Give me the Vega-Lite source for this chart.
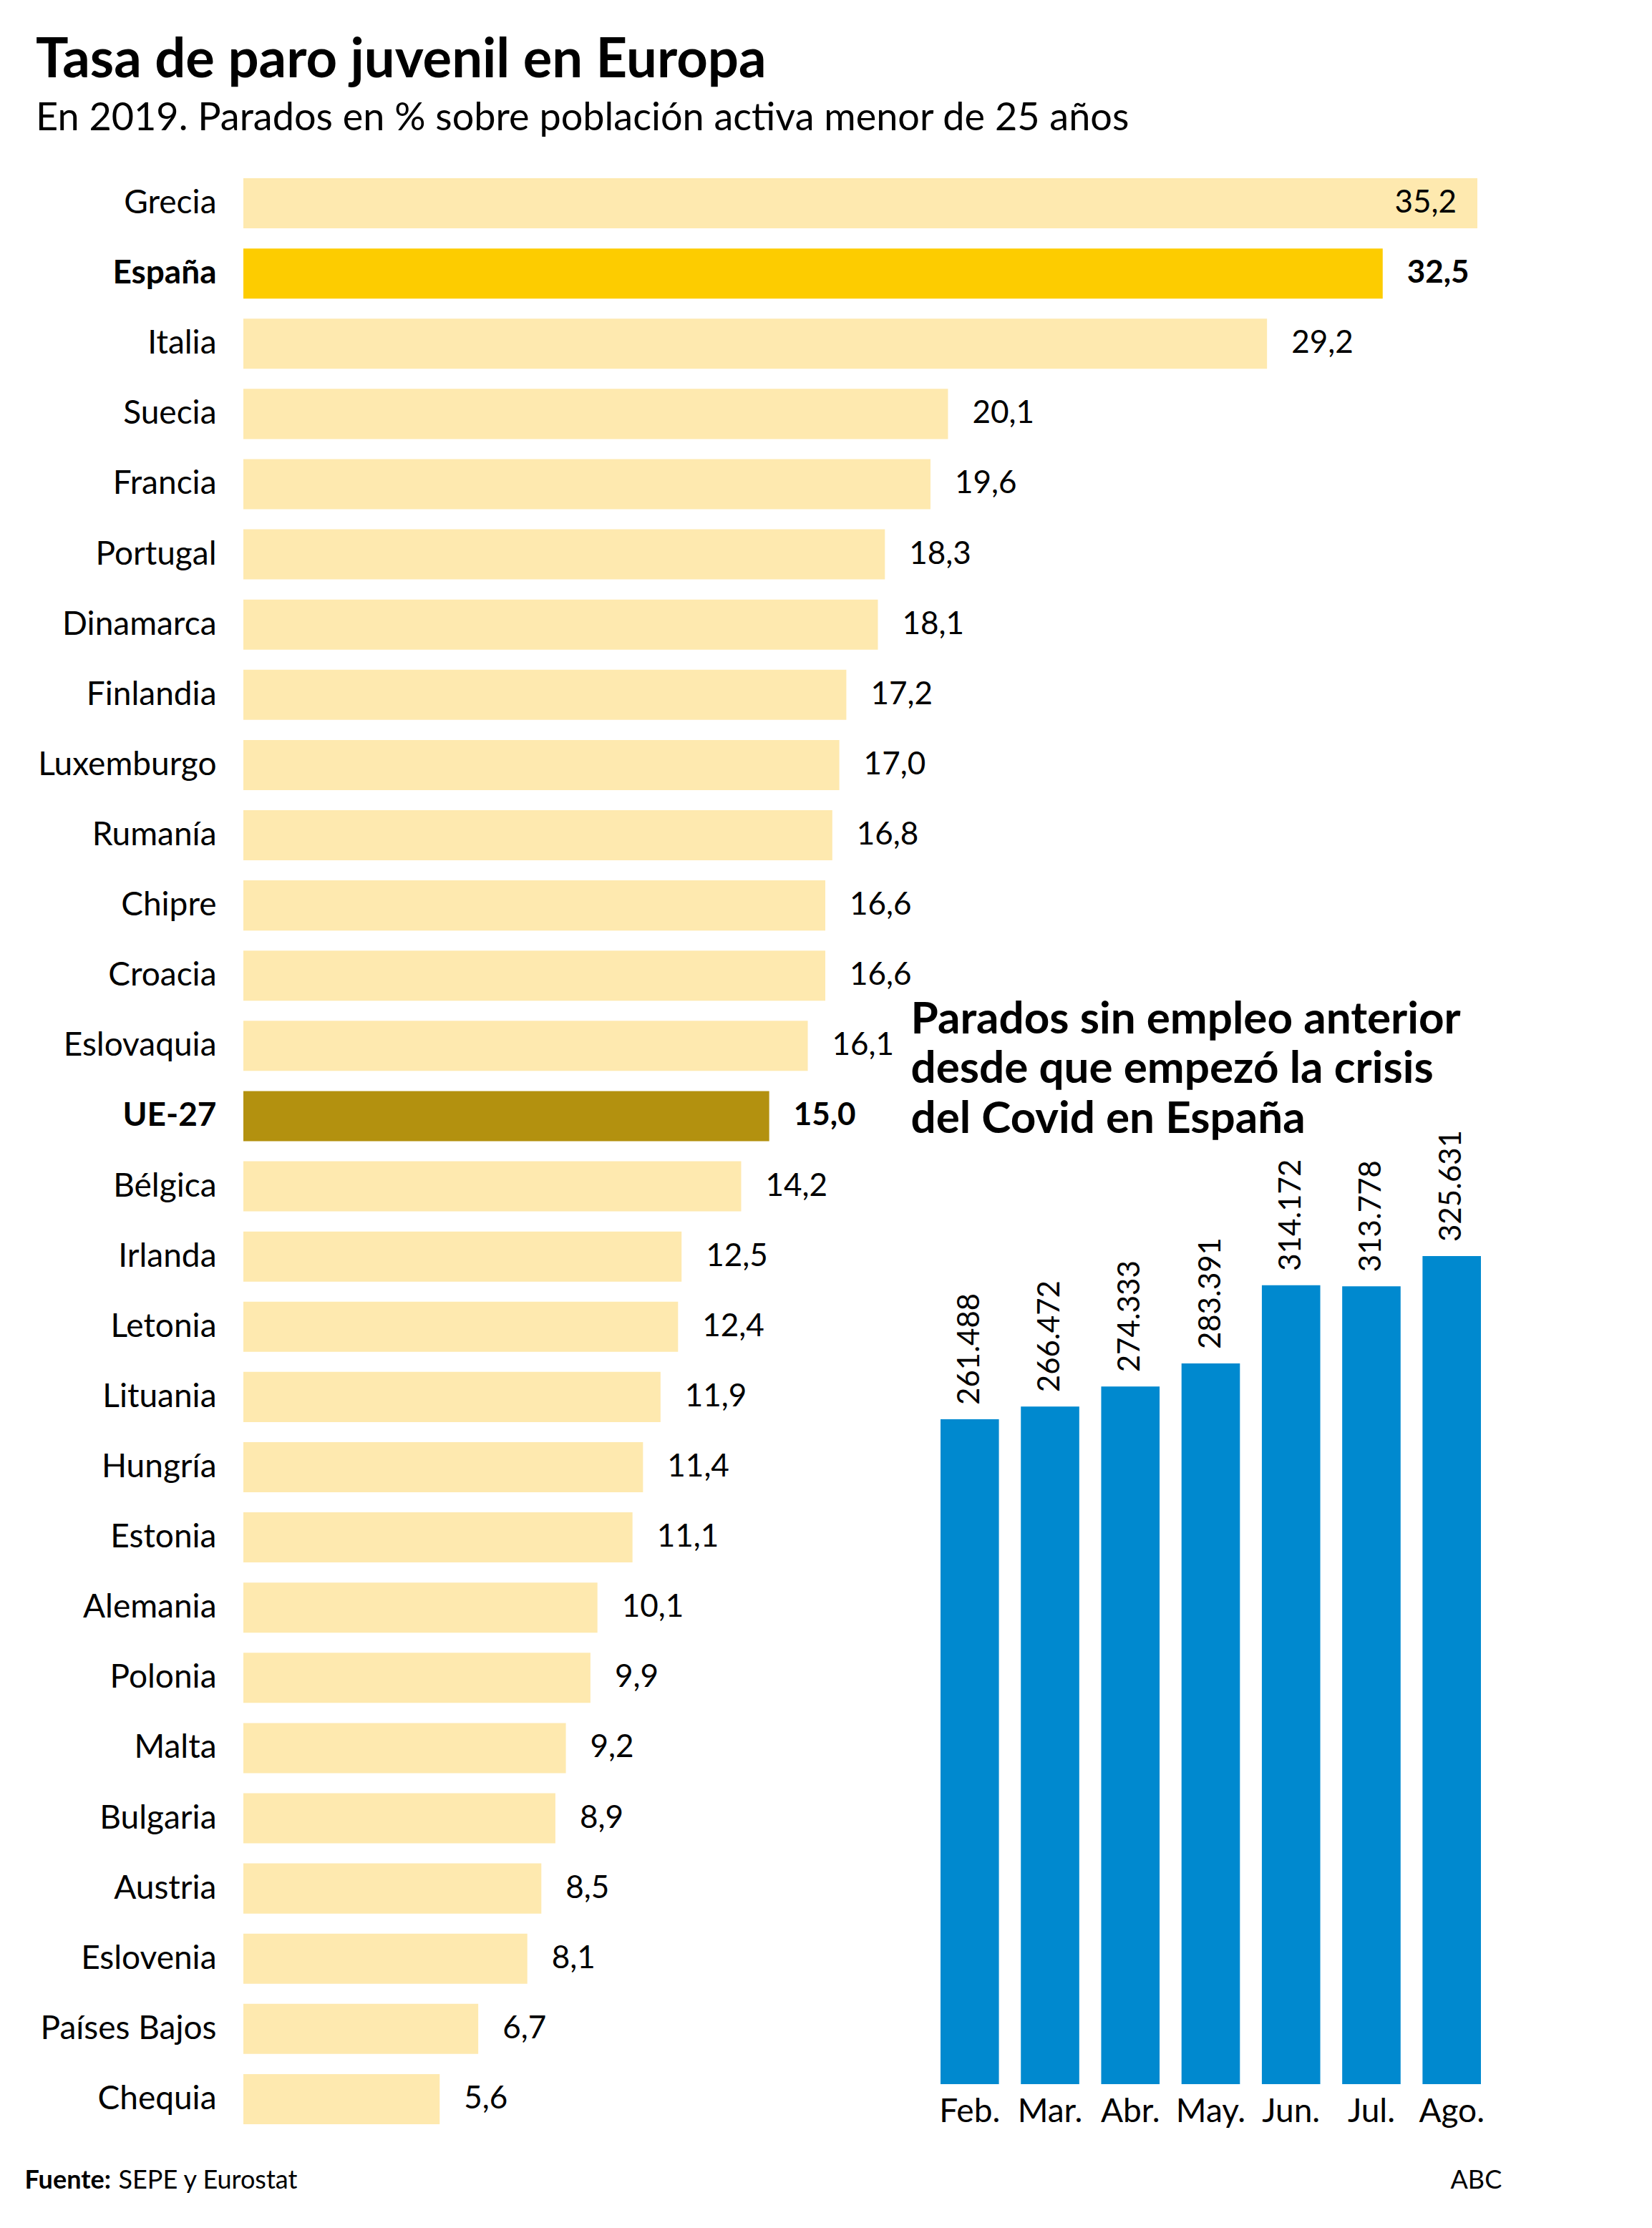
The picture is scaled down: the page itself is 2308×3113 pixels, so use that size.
{
  "$schema": "https://vega.github.io/schema/vega-lite/v6.json",
  "width": 1968,
  "height": 2747,
  "autosize": "none",
  "padding": {"left": 340, "top": 235, "right": 0, "bottom": 131},
  "background": "white",
  "config": {
    "font": "Lato",
    "view": {"stroke": null},
    "locale": {"number": {"decimal": ",", "thousands": ".", "grouping": [3], "currency": ["", " €"]}},
    "axis": {"grid": false, "domain": false, "ticks": false, "tickSize": 0}
  },
  "title": {
    "text": "Tasa de paro juvenil en Europa",
    "subtitle": "En 2019. Parados en % sobre población activa menor de 25 años",
    "anchor": "start",
    "frame": "group",
    "dx": -290,
    "offset": 41,
    "font": "Lato",
    "fontSize": 76,
    "fontWeight": "bold",
    "color": "#000000",
    "subtitleFont": "Lato",
    "subtitleFontSize": 54,
    "subtitleColor": "#000000",
    "subtitlePadding": 15
  },
  "datasets": {
    "paro": [
      {"pais": "Grecia", "tasa": 35.2},
      {"pais": "España", "tasa": 32.5},
      {"pais": "Italia", "tasa": 29.2},
      {"pais": "Suecia", "tasa": 20.1},
      {"pais": "Francia", "tasa": 19.6},
      {"pais": "Portugal", "tasa": 18.3},
      {"pais": "Dinamarca", "tasa": 18.1},
      {"pais": "Finlandia", "tasa": 17.2},
      {"pais": "Luxemburgo", "tasa": 17.0},
      {"pais": "Rumanía", "tasa": 16.8},
      {"pais": "Chipre", "tasa": 16.6},
      {"pais": "Croacia", "tasa": 16.6},
      {"pais": "Eslovaquia", "tasa": 16.1},
      {"pais": "UE-27", "tasa": 15.0},
      {"pais": "Bélgica", "tasa": 14.2},
      {"pais": "Irlanda", "tasa": 12.5},
      {"pais": "Letonia", "tasa": 12.4},
      {"pais": "Lituania", "tasa": 11.9},
      {"pais": "Hungría", "tasa": 11.4},
      {"pais": "Estonia", "tasa": 11.1},
      {"pais": "Alemania", "tasa": 10.1},
      {"pais": "Polonia", "tasa": 9.9},
      {"pais": "Malta", "tasa": 9.2},
      {"pais": "Bulgaria", "tasa": 8.9},
      {"pais": "Austria", "tasa": 8.5},
      {"pais": "Eslovenia", "tasa": 8.1},
      {"pais": "Países Bajos", "tasa": 6.7},
      {"pais": "Chequia", "tasa": 5.6}
    ],
    "covid": [
      {"mes": "Feb.", "parados": 261488},
      {"mes": "Mar.", "parados": 266472},
      {"mes": "Abr.", "parados": 274333},
      {"mes": "May.", "parados": 283391},
      {"mes": "Jun.", "parados": 314172},
      {"mes": "Jul.", "parados": 313778},
      {"mes": "Ago.", "parados": 325631}
    ]
  },
  "layer": [
    {
      "data": {"name": "paro"},
      "encoding": {
        "y": {
          "field": "pais",
          "type": "nominal",
          "sort": null,
          "scale": {"paddingInner": 0.286, "paddingOuter": 0.143},
          "axis": {
            "orient": "left",
            "labelFontSize": 46,
            "labelColor": "#000000",
            "labelPadding": 38,
            "labelLimit": 500,
            "labelFontWeight": {"condition": {"test": "datum.value === 'España' || datum.value === 'UE-27'", "value": "bold"}, "value": "normal"},
            "title": "Fuente:",
            "titleAngle": 0,
            "titleX": -306,
            "titleY": 2822,
            "titleAlign": "left",
            "titleBaseline": "alphabetic",
            "titleFontSize": 36,
            "titleFontWeight": "bold",
            "titleColor": "#000000"
          }
        },
        "x": {
          "field": "tasa",
          "type": "quantitative",
          "scale": {"domain": [0, 35.2], "range": [0, 1724], "nice": false},
          "axis": {
            "orient": "top",
            "labels": false,
            "title": "SEPE y Eurostat",
            "titleX": -175,
            "titleY": 2822,
            "titleAlign": "left",
            "titleBaseline": "alphabetic",
            "titleFontSize": 36,
            "titleFontWeight": "normal",
            "titleColor": "#000000"
          }
        }
      },
      "layer": [
        {
          "mark": {"type": "bar"},
          "encoding": {
            "color": {
              "condition": [
                {"test": "datum.pais === 'España'", "value": "#FDCC00"},
                {"test": "datum.pais === 'UE-27'", "value": "#B3910F"}
              ],
              "value": "#FEE9AF"
            }
          }
        },
        {
          "transform": [{"filter": "datum.pais !== 'Grecia'"}],
          "mark": {
            "type": "text",
            "align": "left",
            "baseline": "middle",
            "dx": 34,
            "fontSize": 44,
            "color": "#000000",
            "fontWeight": {"expr": "datum.pais === 'España' || datum.pais === 'UE-27' ? 'bold' : 'normal'"}
          },
          "encoding": {"text": {"field": "tasa", "type": "quantitative", "format": ".1f"}}
        },
        {
          "transform": [{"filter": "datum.pais === 'Grecia'"}],
          "mark": {"type": "text", "align": "right", "baseline": "middle", "dx": -29, "fontSize": 44, "color": "#000000"},
          "encoding": {"text": {"field": "tasa", "type": "quantitative", "format": ".1f"}}
        }
      ]
    },
    {
      "data": {"name": "covid"},
      "encoding": {
        "x": {
          "field": "mes",
          "type": "nominal",
          "sort": null,
          "scale": {"range": [974, 1729], "paddingInner": 0.273, "paddingOuter": 0},
          "axis": {
            "orient": "bottom",
            "offset": -70,
            "labelAngle": 0,
            "labelFontSize": 46,
            "labelColor": "#000000",
            "labelPadding": 16,
            "title": "ABC",
            "titleX": 1686,
            "titleY": 145,
            "titleAlign": "left",
            "titleBaseline": "alphabetic",
            "titleFontSize": 36,
            "titleFontWeight": "normal",
            "titleColor": "#000000"
          }
        },
        "y": {
          "field": "parados",
          "type": "quantitative",
          "scale": {"domain": [0, 330000], "range": [2677, 1504.5], "nice": false, "zero": true},
          "axis": {
            "orient": "right",
            "labels": false,
            "title": ["Parados sin empleo anterior", "desde que empezó la crisis", "del Covid en España"],
            "titleAngle": 0,
            "titleX": -1036,
            "titleY": 1208,
            "titleAlign": "left",
            "titleBaseline": "alphabetic",
            "titleFontSize": 62,
            "titleFontWeight": "bold",
            "titleLineHeight": 69.5,
            "titleColor": "#000000"
          }
        }
      },
      "layer": [
        {"mark": {"type": "bar", "color": "#0089CF"}},
        {
          "mark": {"type": "text", "angle": 270, "align": "left", "baseline": "middle", "dx": 20, "fontSize": 42, "color": "#000000"},
          "encoding": {"text": {"field": "parados", "type": "quantitative", "format": ",d"}}
        }
      ]
    }
  ],
  "resolve": {
    "scale": {"x": "independent", "y": "independent"},
    "axis": {"x": "independent", "y": "independent"}
  }
}
